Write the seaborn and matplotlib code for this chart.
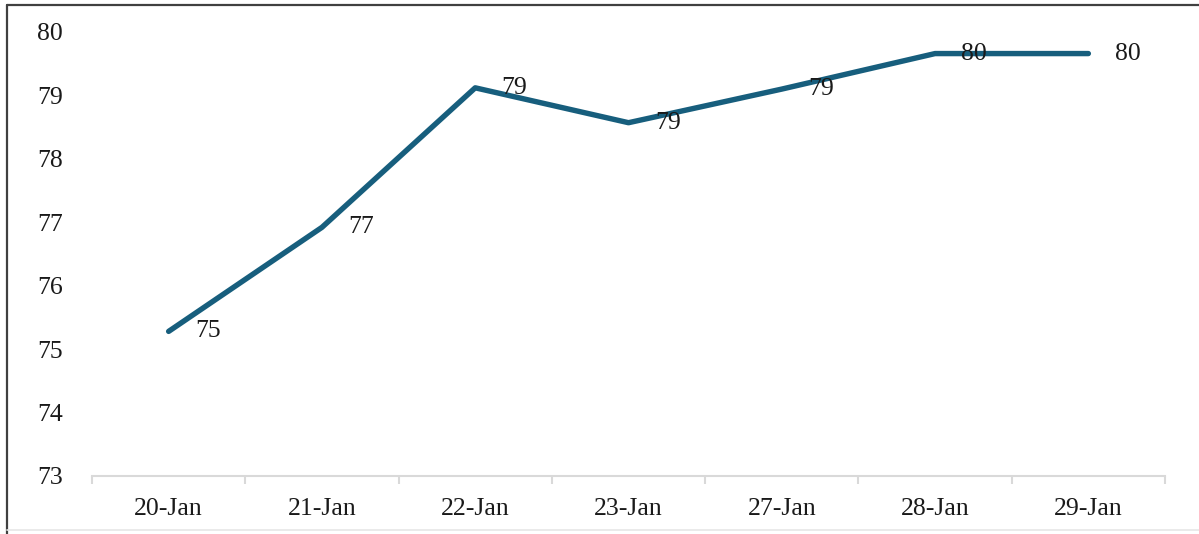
import matplotlib
matplotlib.use("Agg")
import matplotlib.pyplot as plt
from matplotlib.lines import Line2D
from matplotlib.ticker import FixedLocator
import seaborn as sns
import pandas as pd

dates = ["20-Jan", "21-Jan", "22-Jan", "23-Jan", "27-Jan", "28-Jan", "29-Jan"]
values = [75.28, 76.92, 79.12, 78.57, 79.10, 79.66, 79.66]
y_ticks = [73, 74, 75, 76, 77, 78, 79, 80]

sns.set_style("white")
plt.rcParams["font.family"] = ["Liberation Serif", "DejaVu Serif"]

df = pd.DataFrame({"date": dates, "value": values})

fig = plt.figure(figsize=(11.99, 5.34), dpi=100)
ax = fig.add_axes([92 / 1199, 1 - 476 / 534, (1165 - 92) / 1199, (476 - 32) / 534])

line_color = "#175E7D"
sns.lineplot(data=df, x="date", y="value", ax=ax, color=line_color,
             linewidth=3.9, sort=False, solid_capstyle="round")

fs = 18.5
for i, v in enumerate(values):
    ax.annotate(f"{round(v):d}", xy=(i, v), xytext=(19, 0),
                textcoords="offset points", ha="left", va="center",
                fontsize=fs, color="#1a1a1a")

ax.set_xlim(-0.5, len(dates) - 0.5)
ax.set_ylim(73, 80)
ax.set_yticks(y_ticks)
ax.set_yticklabels([str(t) for t in y_ticks])
ax.set_xticks(range(len(dates)))
ax.set_xticklabels(dates)
ax.set_xlabel("")
ax.set_ylabel("")

ax.xaxis.set_minor_locator(FixedLocator([i - 0.5 for i in range(len(dates) + 1)]))
ax.tick_params(axis="x", which="major", bottom=False, length=0, pad=16,
               labelsize=fs, labelcolor="#1a1a1a")
ax.tick_params(axis="x", which="minor", bottom=True, length=6, width=1.5,
               color="#d9d9d9", direction="out")
ax.tick_params(axis="y", which="major", left=False, length=0, pad=21,
               labelsize=fs, labelcolor="#1a1a1a")

for s in ["top", "right", "left"]:
    ax.spines[s].set_visible(False)
ax.spines["bottom"].set_color("#d9d9d9")
ax.spines["bottom"].set_linewidth(1.5)
ax.grid(False)

# outer frame of the cropped figure
fig.add_artist(Line2D([7 / 1199, 7 / 1199], [0, 1 - 5 / 534], color="#404040", linewidth=1.6))
fig.add_artist(Line2D([7 / 1199, 1], [1 - 5 / 534, 1 - 5 / 534], color="#404040", linewidth=1.6))
fig.add_artist(Line2D([7 / 1199, 1], [4 / 534, 4 / 534], color="#e6e6e6", linewidth=1.2))

fig.savefig("out.png", dpi=100)
